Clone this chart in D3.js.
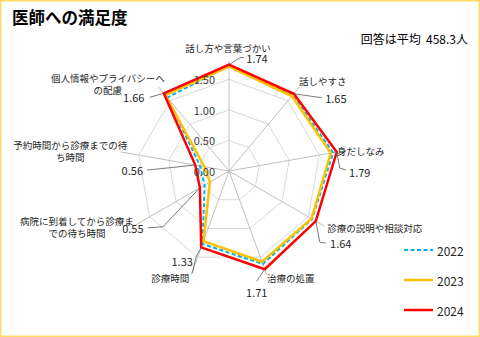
<!DOCTYPE html>
<html><head><meta charset="utf-8">
<script src="https://cdn.jsdelivr.net/npm/d3@7"></script>
<style>
html,body{margin:0;padding:0;background:#fff;}
svg{display:block;font-family:"Noto Sans CJK JP","Noto Sans",sans-serif;}
</style></head>
<body><svg id="c" width="480" height="337"></svg>
<script>
// ---- data ----
const categories = [
  "話し方や言葉づかい",
  "話しやすさ",
  "身だしなみ",
  "診療の説明や相談対応",
  "治療の処置",
  "診療時間",
  "病院に到着してから診療までの待ち時間",
  "予約時間から診療までの待ち時間",
  "個人情報やプライバシーへの配慮"
];
const categoryLines = [
  ["話し方や言葉づかい"],
  ["話しやすさ"],
  ["身だしなみ"],
  ["診療の説明や相談対応"],
  ["治療の処置"],
  ["診療時間"],
  ["病院に到着してから診療ま","での待ち時間"],
  ["予約時間から診療までの待","ち時間"],
  ["個人情報やプライバシーへ","の配慮"]
];
const years = ["2022","2023","2024"];
const values2022 = [1.72, 1.62, 1.73, 1.57, 1.62, 1.27, 0.46, 0.48, 1.57];
const values2023 = [1.71, 1.60, 1.69, 1.56, 1.58, 1.22, 0.36, 0.41, 1.62];
const values2024 = [1.74, 1.65, 1.79, 1.64, 1.71, 1.33, 0.55, 0.56, 1.66];
const tickValues = [0, 0.5, 1.0, 1.5];
const title = "医師への満足度";
const note = "回答は平均 458.3人";

// ---- layout / style ----
const cx = 229, cy = 171;
const maxV = 1.8;
const r = d3.scaleLinear().domain([0, maxV]).range([0, 110]);
const ang = d3.scaleLinear().domain([0, categories.length]).range([0, 2*Math.PI]);
const colors = {"2022":"#00B0F0","2023":"#FFC000","2024":"#FF0000"};
const widths = {"2022":2,"2023":2.5,"2024":2.5};
const dashes = {"2022":"4,2.5","2023":null,"2024":null};
const seriesVals = {"2022":values2022,"2023":values2023,"2024":values2024};

// label layout (offsets relative to 2024 data vertex)
const labelLayout = [
  {cat:[-1,-17], val:[28,-7], lead:[[11,-7],[15,-7]]},
  {cat:[29,-13], val:[42,4], lead:[[28,4]]},
  {cat:[24,-1], val:[23,20], lead:[[3,16],[9,18]]},
  {cat:[59,7], val:[25,22], lead:[[4,21],[10,22]]},
  {cat:[26,9], val:[-8,23], lead:[[-8,12]]},
  {cat:[-31,31], val:[-19,14], lead:[[-5,9],[-9,26]]},
  {cat:[-123,33], val:[-67,40], lead:[[-37,39],[-52,40]]},
  {cat:[-125,-20], val:[-63,5], lead:[[-48,5]]},
  {cat:[-56,-15], val:[-30,4], lead:[[-14,4]]}
];

function pt(i, v){
  const a = ang(i);
  return [cx + r(v)*Math.sin(a), cy - r(v)*Math.cos(a)];
}

const svg = d3.select("#c");
svg.append("rect").attr("x",0.75).attr("y",0.75).attr("width",478.5).attr("height",335.5)
  .attr("fill","#fff").attr("stroke","#FFD966").attr("stroke-width",1.5);

svg.append("text").attr("x",12).attr("y",24).attr("font-size",16.5).attr("font-weight","bold")
  .attr("fill","#000").text(title);
svg.append("text").attr("x",468).attr("y",38).attr("text-anchor","end").attr("dominant-baseline","central")
  .attr("font-size",12).attr("fill","#000").attr("xml:space","preserve").text("回答は平均\u00A0\u00A0458.3人");

// grid rings
const g = svg.append("g");
tickValues.filter(t=>t>0).forEach(t=>{
  const pts = categories.map((c,i)=>pt(i,t));
  g.append("path").attr("d", d3.line().curve(d3.curveLinearClosed)(pts))
    .attr("fill","none").attr("stroke","#D9D9D9").attr("stroke-width",1);
});
// axes
categories.forEach((c,i)=>{
  const p = pt(i,maxV);
  g.append("line").attr("x1",cx).attr("y1",cy).attr("x2",p[0]).attr("y2",p[1])
    .attr("stroke","#BFBFBF").attr("stroke-width",1);
});

// series
const line = d3.line().curve(d3.curveLinearClosed);
years.forEach(y=>{
  const pts = seriesVals[y].map((v,i)=>pt(i,v));
  svg.append("path").attr("d", line(pts)).attr("fill","none")
    .attr("stroke",colors[y]).attr("stroke-width",widths[y])
    .attr("stroke-dasharray",dashes[y]).attr("stroke-linejoin","miter");
});

// tick labels
tickValues.forEach(t=>{
  svg.append("text").attr("x",cx-14).attr("y",cy - r(t)).attr("text-anchor","end")
    .attr("dominant-baseline","central").attr("font-size",11).attr("fill","#404040")
    .text(d3.format(".2f")(t));
});

// category + value labels with leader lines
values2024.forEach((v,i)=>{
  const p = pt(i,v);
  const L = labelLayout[i];
  const leadPts = [p].concat(L.lead.map(o=>[p[0]+o[0], p[1]+o[1]]));
  svg.append("path").attr("d", d3.line()(leadPts)).attr("fill","none")
    .attr("stroke","#595959").attr("stroke-width",0.8);
  const lines = categoryLines[i];
  lines.forEach((s,k)=>{
    svg.append("text").attr("x",p[0]+L.cat[0]).attr("y",p[1]+L.cat[1]+k*12)
      .attr("text-anchor","middle").attr("dominant-baseline","central")
      .attr("font-size",9.5).attr("fill","#262626").text(s);
  });
  svg.append("text").attr("x",p[0]+L.val[0]).attr("y",p[1]+L.val[1])
    .attr("text-anchor","middle").attr("dominant-baseline","central")
    .attr("font-size",11).attr("fill","#262626").text(d3.format(".2f")(v));
});

// legend
years.forEach((y,k)=>{
  const ly = 250 + k*30;
  svg.append("line").attr("x1",404).attr("x2",433).attr("y1",ly).attr("y2",ly)
    .attr("stroke",colors[y]).attr("stroke-width",widths[y]).attr("stroke-dasharray",dashes[y]);
  svg.append("text").attr("x",437).attr("y",ly).attr("dominant-baseline","central")
    .attr("font-size",12).attr("fill","#262626").text(y);
});
</script></body></html>
